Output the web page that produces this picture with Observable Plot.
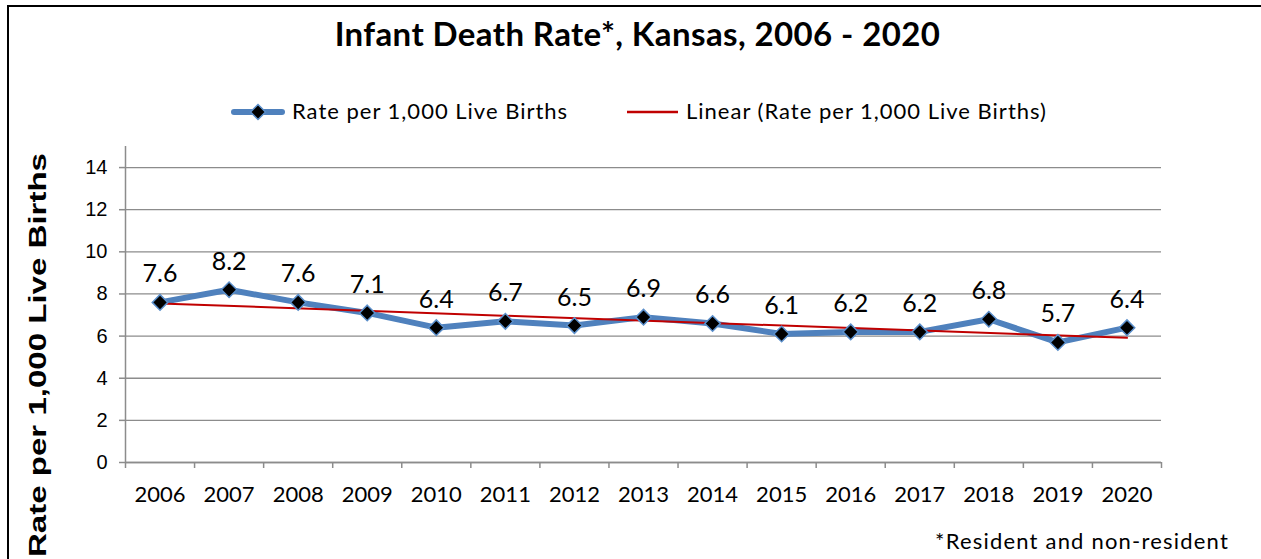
<!DOCTYPE html>
<html>
<head>
<meta charset="utf-8">
<script src="https://cdn.jsdelivr.net/npm/d3@7"></script>
<script src="https://cdn.jsdelivr.net/npm/@observablehq/plot@0.6"></script>
<style>
  html, body { margin: 0; padding: 0; background: #fff; }
  body { width: 1261px; height: 559px; overflow: hidden; position: relative; font-family: Lato, "Open Sans", sans-serif; color: #000; }
  #frame { position: absolute; left: 7px; top: 5px; width: 1320px; height: 620px; border: 2px solid #000; box-sizing: border-box; }
  #title { position: absolute; left: 7px; top: 17px; width: 1261px; text-align: center; font: 700 33px/33px Lato, sans-serif; letter-spacing: 0.4px; white-space: nowrap; }
  .legtext { position: absolute; top: 100px; font: 400 22px/22px Lato, sans-serif; letter-spacing: 1px; white-space: nowrap; }
  .legicon { position: absolute; }
  #chart { position: absolute; left: 0; top: 140px; }
  #caption { position: absolute; right: 32px; top: 530px; font: 400 22px/22px Lato, sans-serif; letter-spacing: 1.2px; white-space: nowrap; }
  #ytitle { position: absolute; left: 0; top: 0; }
</style>
</head>
<body>
<div id="frame"></div>
<div id="title"></div>
<svg class="legicon" style="left:230px;top:102px" width="56" height="20">
  <line x1="4" y1="10" x2="52" y2="10" stroke="#4F81BD" stroke-width="6" stroke-linecap="round"></line>
  <path d="M28,2.5 L35.5,10 L28,17.5 L20.5,10 Z" fill="#000" stroke="#5B8FCB" stroke-width="1.5"></path>
</svg>
<div class="legtext" id="leg1" style="left:292px"></div>
<svg class="legicon" style="left:625px;top:102px" width="56" height="20">
  <line x1="2" y1="10" x2="53" y2="10" stroke="#C00000" stroke-width="2.5"></line>
</svg>
<div class="legtext" id="leg2" style="left:686px"></div>
<div id="chart"></div>
<svg id="ytitle" width="80" height="559"></svg>
<div id="caption"></div>
<script>
// ---- data ----
const years = [2006, 2007, 2008, 2009, 2010, 2011, 2012, 2013, 2014, 2015, 2016, 2017, 2018, 2019, 2020];
const rates = [7.6, 8.2, 7.6, 7.1, 6.4, 6.7, 6.5, 6.9, 6.6, 6.1, 6.2, 6.2, 6.8, 5.7, 6.4];
const yTicks = [0, 2, 4, 6, 8, 10, 12, 14];
const titleText = "Infant Death Rate*, Kansas, 2006 - 2020";
const seriesName = "Rate per 1,000 Live Births";
const trendName = "Linear (Rate per 1,000 Live Births)";
const yAxisTitle = "Rate per 1,000 Live Births";
const captionText = "*Resident and non-resident";

// ---- build ----
const data = years.map((year, i) => ({year, rate: rates[i]}));
const bounds = [...years.map(y => y - 0.5), years[years.length - 1] + 0.5];
const gray = "#8c8c8c";

document.getElementById("title").textContent = titleText;
document.getElementById("leg1").textContent = seriesName;
document.getElementById("leg2").textContent = trendName;
document.getElementById("caption").textContent = captionText;

const ns = "http://www.w3.org/2000/svg";
const yt = document.createElementNS(ns, "text");
yt.setAttribute("transform", "translate(46,355) rotate(-90)");
yt.setAttribute("text-anchor", "middle");
yt.setAttribute("font-family", "'Liberation Sans', Arial, sans-serif");
yt.setAttribute("font-weight", "bold");
yt.setAttribute("font-size", "24");
yt.setAttribute("textLength", "404");
yt.setAttribute("lengthAdjust", "spacingAndGlyphs");
yt.textContent = yAxisTitle;
document.getElementById("ytitle").appendChild(yt);

const chart = Plot.plot({
  width: 1261,
  height: 380,
  marginLeft: 125,
  marginRight: 100,
  marginTop: 6,
  marginBottom: 58,
  x: {type: "linear", domain: [bounds[0], bounds[bounds.length - 1]], label: null},
  y: {domain: [0, 15], label: null},
  style: {fontFamily: "Lato, sans-serif", color: "#000", background: "transparent", overflow: "visible"},
  marks: [
    Plot.gridY(yTicks, {stroke: gray, strokeOpacity: 1, strokeWidth: 1.3}),
    Plot.ruleY([0], {stroke: gray, strokeWidth: 1.5}),
    Plot.ruleX([bounds[0]], {stroke: gray, strokeWidth: 1.5}),
    Plot.axisX(bounds, {tickSize: 6, tickFormat: () => "", stroke: gray, strokeWidth: 1.5, label: null}),
    Plot.axisX(years, {tickSize: 0, tickPadding: 24, tickFormat: d => String(d), fontSize: 22, label: null}),
    Plot.axisY(yTicks, {tickSize: 6, tickPadding: 12, fontSize: 20, fontFamily: "'Liberation Sans', Arial, sans-serif", stroke: gray, strokeWidth: 1.5, label: null}),
    Plot.line(data, {x: "year", y: "rate", stroke: "#4F81BD", strokeWidth: 6, strokeLinejoin: "miter"}),
    Plot.linearRegressionY(data, {x: "year", y: "rate", stroke: "#C00000", strokeWidth: 2, ci: 0}),
    Plot.dot(data, {x: "year", y: "rate", symbol: "diamond2", r: 7, fill: "#000", stroke: "#5B8FCB", strokeWidth: 1.5}),
    Plot.text(data, {x: "year", y: "rate", text: d => d.rate.toFixed(1), dy: -28, fontSize: 25, fill: "#000"})
  ]
});
document.getElementById("chart").appendChild(chart);
</script>
</body>
</html>
